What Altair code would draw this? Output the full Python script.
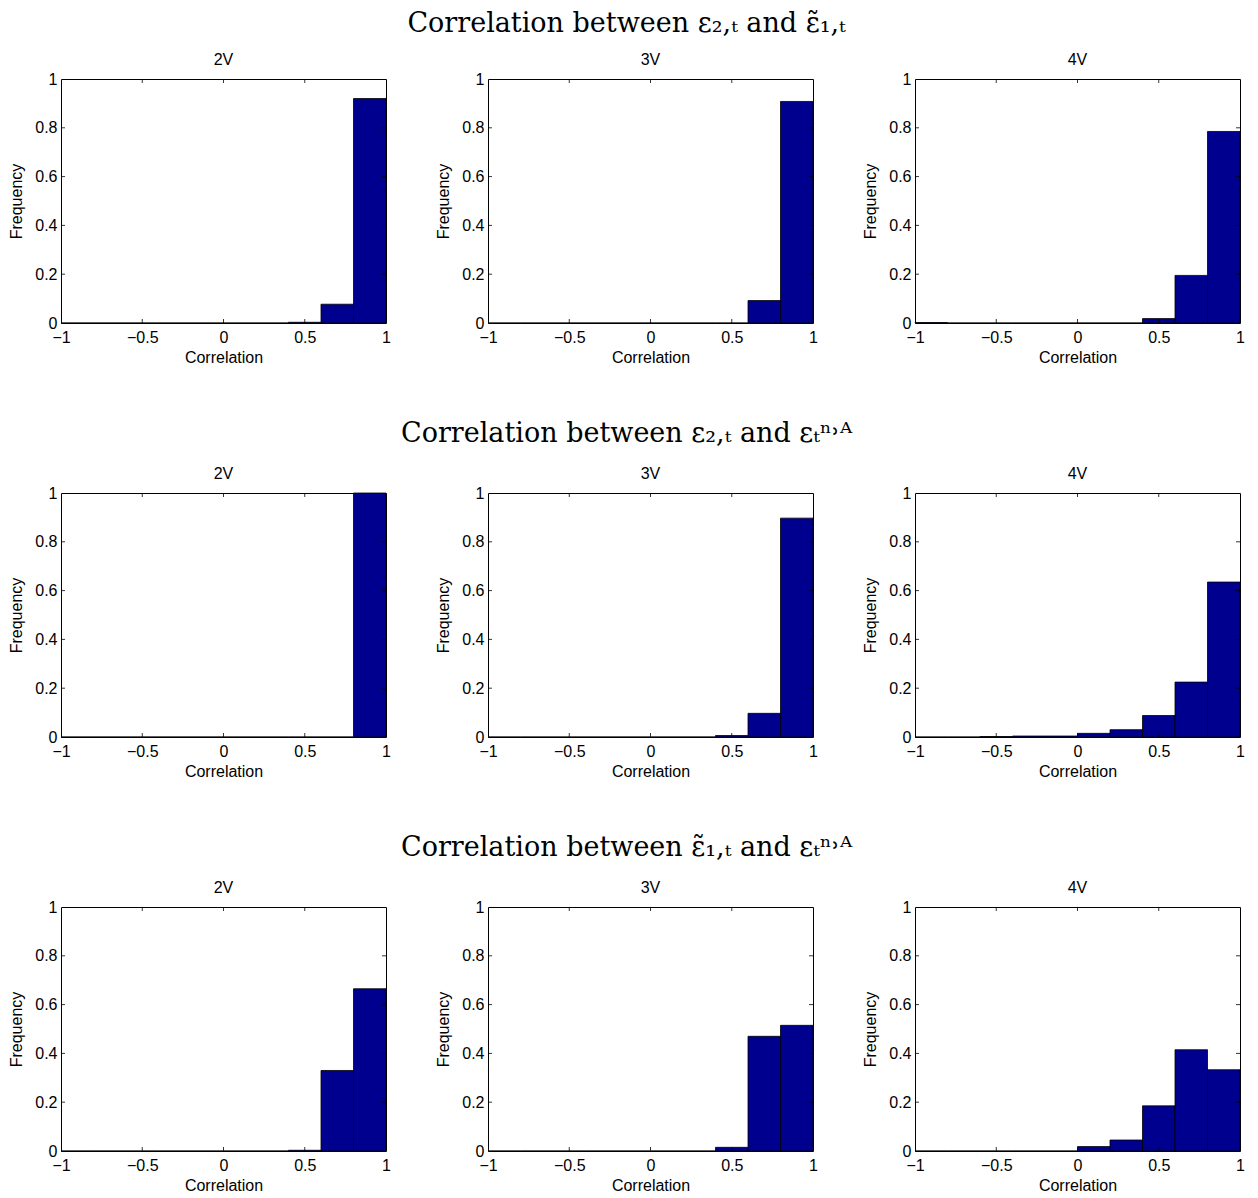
import altair as alt
import pandas as pd

# ---- data ----
BIN_LEFT = [-1.0, -0.8, -0.6, -0.4, -0.2, 0.0, 0.2, 0.4, 0.6, 0.8]
BIN_WIDTH = 0.2
PANEL_LABELS = ["2V", "3V", "4V"]
ROW_TITLES = [
    "Correlation between \u03b5\u2082,\u209c and \u03b5\u0303\u2081,\u209c",
    "Correlation between \u03b5\u2082,\u209c and \u03b5\u209c\u207f\u02d2\u1d2c",
    "Correlation between \u03b5\u0303\u2081,\u209c and \u03b5\u209c\u207f\u02d2\u1d2c",
]
ROW_TITLE_OFFSETS = [14, 18, 18]

R1_2V = [0, 0, 0, 0, 0, 0, 0, 0.003, 0.077, 0.920]
R1_3V = [0, 0, 0, 0, 0, 0, 0, 0.0, 0.092, 0.908]
R1_4V = [0.002, 0, 0, 0, 0, 0, 0, 0.018, 0.195, 0.785]

R2_2V = [0, 0, 0, 0, 0, 0, 0, 0, 0, 1.0]
R2_3V = [0, 0, 0, 0, 0, 0, 0, 0.006, 0.097, 0.897]
R2_4V = [0, 0, 0.002, 0.004, 0.004, 0.015, 0.030, 0.088, 0.225, 0.635]

R3_2V = [0, 0, 0, 0, 0, 0, 0, 0.003, 0.330, 0.665]
R3_3V = [0, 0, 0, 0, 0, 0, 0, 0.015, 0.470, 0.515]
R3_4V = [0, 0, 0, 0, 0, 0.018, 0.045, 0.185, 0.415, 0.333]

ROWS = [[R1_2V, R1_3V, R1_4V], [R2_2V, R2_3V, R2_4V], [R3_2V, R3_3V, R3_4V]]

X_TICKS = [-1, -0.5, 0, 0.5, 1]
Y_TICKS = [0, 0.2, 0.4, 0.6, 0.8, 1]

W, H = 325, 244
SANS = "Liberation Sans"
SERIF = "DejaVu Serif"
BAR = "#00008F"
TL = 4  # inner tick length

XS = alt.Scale(domain=[-1, 1], nice=False, zero=False)
YS = alt.Scale(domain=[0, 1], nice=False)
XAX = alt.Axis(values=X_TICKS, format="~g", title="Correlation",
               labelPadding=6, titlePadding=4, labelFlush=False)
YAX = alt.Axis(values=Y_TICKS, format="~g", title="Frequency",
               labelPadding=4, titlePadding=10, labelFlush=False)


def panel(freqs, label):
    df = pd.DataFrame({
        "lo": BIN_LEFT,
        "hi": [b + BIN_WIDTH for b in BIN_LEFT],
        "f": freqs,
        "base": [0.0] * len(BIN_LEFT),
    })
    bars = alt.Chart(df).mark_rect(fill=BAR, stroke="black", strokeWidth=0.8).encode(
        x=alt.X("lo:Q", scale=XS, axis=XAX, title="Correlation"),
        x2="hi:Q",
        y=alt.Y("f:Q", scale=YS, axis=YAX, title="Frequency"),
        y2="base:Q",
    )
    xt = pd.DataFrame({"lo": X_TICKS[1:-1]})
    yt = pd.DataFrame({"f": Y_TICKS[1:-1]})
    rule = dict(color="black", strokeWidth=0.8)
    top = alt.Chart(xt).mark_rule(**rule).encode(
        x=alt.X("lo:Q", scale=XS, axis=XAX, title="Correlation"),
        y=alt.value(0), y2=alt.value(TL))
    bot = alt.Chart(xt).mark_rule(**rule).encode(
        x=alt.X("lo:Q", scale=XS, axis=XAX, title="Correlation"),
        y=alt.value(H - TL), y2=alt.value(H))
    left = alt.Chart(yt).mark_rule(**rule).encode(
        y=alt.Y("f:Q", scale=YS, axis=YAX, title="Frequency"),
        x=alt.value(0), x2=alt.value(TL))
    right = alt.Chart(yt).mark_rule(**rule).encode(
        y=alt.Y("f:Q", scale=YS, axis=YAX, title="Frequency"),
        x=alt.value(W - TL), x2=alt.value(W))
    return alt.layer(bars, top, bot, left, right).properties(
        width=W, height=H,
        title=alt.TitleParams(label, font=SANS, fontSize=16, fontWeight="normal",
                              color="black", offset=3),
    )


rows = []
for title, off, freqs_row in zip(ROW_TITLES, ROW_TITLE_OFFSETS, ROWS):
    panels = [panel(f, lab) for f, lab in zip(freqs_row, PANEL_LABELS)]
    rows.append(alt.hconcat(*panels, spacing=44).properties(
        title=alt.TitleParams(title, font=SERIF, fontSize=27, fontWeight="normal",
                              color="black", anchor="middle", offset=off)))

chart = alt.vconcat(*rows, spacing=53).properties(
    padding={"left": 0, "top": 1, "right": 0, "bottom": 0}
).configure_view(stroke="black", strokeWidth=1).configure_axis(
    grid=False, domain=False, ticks=False,
    labelFont=SANS, labelFontSize=16, labelColor="black",
    titleFont=SANS, titleFontSize=16, titleFontWeight="normal", titleColor="black",
)

chart.save("out.html", embed_options={"renderer": "svg", "actions": False})
